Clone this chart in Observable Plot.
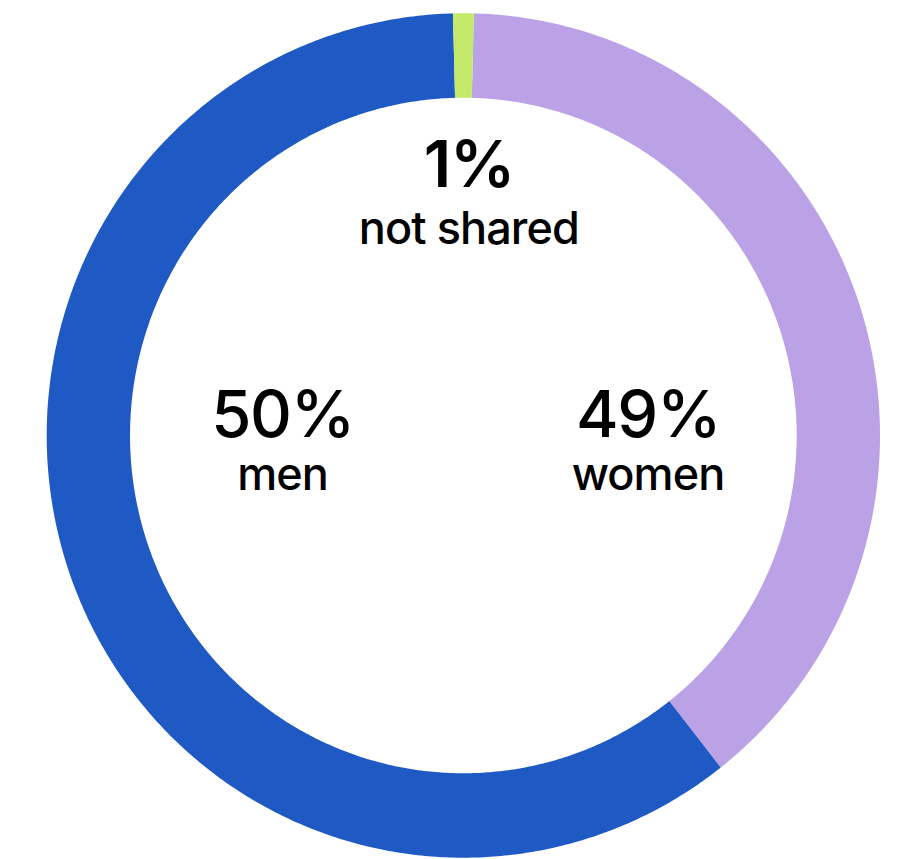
<!DOCTYPE html>
<html>
<head>
<meta charset="utf-8">
<script src="https://cdn.jsdelivr.net/npm/d3@7"></script>
<script src="https://cdn.jsdelivr.net/npm/@observablehq/plot@0.6"></script>
<style>
  html, body { margin: 0; padding: 0; background: #fff; }
  #chart svg { display: block; }
</style>
</head>
<body>
<div id="chart"></div>
<script>
// ---- data ----
const categories = ["women", "men", "not shared"];
const arcShares = [39.0, 60.2, 0.8];          // share of the ring each arc covers, as drawn
const percentLabels = ["49%", "50%", "1%"];   // printed values
const sliceColors = ["#bba1e6", "#1f59c4", "#c4e86a"];

// ---- layout ----
const startAngleDeg = 1.45;   // first arc begins just right of 12 o'clock
const innerRatio = 0.8;
const labelAnchors = {        // in unit-circle coordinates
  "women": [0.442, -0.002],
  "men": [-0.435, -0.002],
  "not shared": [0.012, 0.589]
};

const total = d3.sum(arcShares);
const ring = [];
let acc = 0;
categories.forEach((cat, i) => {
  const a0 = (startAngleDeg + acc / total * 360) * Math.PI / 180;
  acc += arcShares[i];
  const a1 = (startAngleDeg + acc / total * 360) * Math.PI / 180;
  const steps = Math.max(4, Math.ceil((a1 - a0) / (Math.PI / 360)));
  for (let s = 0; s <= steps; s++) {
    const a = a0 + (a1 - a0) * s / steps;
    ring.push({
      cat,
      xo: Math.sin(a), yo: Math.cos(a),
      xi: innerRatio * Math.sin(a), yi: innerRatio * Math.cos(a)
    });
  }
});

const labels = categories.map((cat, i) => ({
  cat, pct: percentLabels[i], x: labelAnchors[cat][0], y: labelAnchors[cat][1]
}));
const sideLabels = labels.filter(d => d.cat !== "not shared");
const topLabels = labels.filter(d => d.cat === "not shared");

const numStyle = { x: "x", y: "y", text: "pct", textAnchor: "middle", lineAnchor: "bottom", fontSize: 65, fill: "#000" };
const catStyle = { x: "x", y: "y", text: "cat", textAnchor: "middle", lineAnchor: "bottom", fontSize: 45, fontWeight: 500, fill: "#000" };

const chart = Plot.plot({
  width: 916,
  height: 859,
  margin: 0,
  style: { fontFamily: "Inter, 'Liberation Sans', Arial, sans-serif", background: "#fff" },
  x: { domain: [-1, 1], range: [46.7, 880], axis: null },
  y: { domain: [-1, 1], range: [857.7, 13.3], axis: null },
  color: { domain: categories, range: sliceColors },
  marks: [
    Plot.area(ring, {
      x1: "xo", y1: "yo", x2: "xi", y2: "yi",
      z: "cat", fill: "cat", curve: "linear"
    }),
    Plot.text(sideLabels, { ...numStyle, fontWeight: 500 }),
    Plot.text(topLabels, { ...numStyle, fontWeight: 600 }),
    Plot.text(sideLabels, { ...catStyle, dy: 53 }),
    Plot.text(topLabels, { ...catStyle, dy: 57 })
  ]
});
d3.select(chart).selectAll("text").style("letter-spacing", "-0.02em");
document.getElementById("chart").appendChild(chart);
</script>
</body>
</html>
